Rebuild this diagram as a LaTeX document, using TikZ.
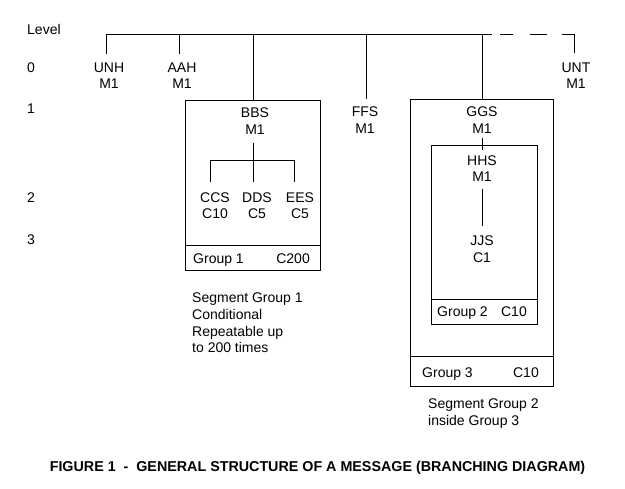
\documentclass[tikz,border=0pt]{standalone}
\usepackage{fontspec}
\setmainfont{Liberation Sans}
\begin{document}
\begin{tikzpicture}[x=1pt,y=-1pt,
  txt/.style={inner sep=0pt, align=center, font=\fontsize{14}{16.6}\selectfont},
  ltxt/.style={inner sep=0pt, align=left, font=\fontsize{14}{16.6}\selectfont},
  wire/.style={line width=0.9pt},
  grpbox/.style={draw, line width=0.9pt, inner sep=0pt}]
\useasboundingbox (0,0) rectangle (625,489);
% level column
\node[txt, anchor=base west] (lvl) at (27,35) {Level};
\node[txt, anchor=base west] (l0) at (27,73) {0};
\node[txt, anchor=base west] (l1) at (27,114) {1};
\node[txt, anchor=base west] (l2) at (27,203) {2};
\node[txt, anchor=base west] (l3) at (27,245) {3};
% level 0 segments
\node[txt] (unh) at (109,75.5) {UNH\\M1};
\node[txt] (aah) at (182,75.5) {AAH\\M1};
\node[txt] (ffs) at (365,120) {FFS\\M1};
\node[txt] (unt) at (576,75.5) {UNT\\M1};
% boxes
\node[grpbox, minimum width=135pt, minimum height=170pt] (g1box) at (252.5,185) {};
\node[grpbox, minimum width=143pt, minimum height=287pt] (g3box) at (481.5,242.5) {};
\node[grpbox, minimum width=106pt, minimum height=179pt] (g2box) at (484,234.5) {};
% texts in group 1
\node[txt] (bbs) at (255,121) {BBS\\M1};
\node[txt] (ccs) at (215,205.5) {CCS\\C10};
\node[txt] (dds) at (257,205.5) {DDS\\C5};
\node[txt] (ees) at (300,205.5) {EES\\C5};
\node[txt, anchor=base west] (g1lab) at (193,264) {Group 1};
\node[txt, anchor=base east] (g1rep) at (310,264) {C200};
% texts in group 3 / 2
\node[txt] (ggs) at (482,120) {GGS\\M1};
\node[txt] (hhs) at (482,168.5) {HHS\\M1};
\node[txt] (jjs) at (482,249) {JJS\\C1};
\node[txt, anchor=base west] (g2lab) at (437,317) {Group 2};
\node[txt, anchor=base east] (g2rep) at (527,317) {C10};
\node[txt, anchor=base west] (g3lab) at (422,378) {Group 3};
\node[txt, anchor=base east] (g3rep) at (539,378) {C10};
% notes
\node[ltxt, anchor=north west] (note1) at (192,293) {Segment Group 1\\Conditional\\Repeatable up\\to 200 times};
\node[ltxt, anchor=north west] (note2) at (428,398.5) {Segment Group 2\\inside Group 3};
% caption
\node[inner sep=0pt, anchor=base, font=\bfseries\fontsize{14.3}{17}\selectfont] (cap) at (317.5,472) {FIGURE 1\ \ -\ \ GENERAL STRUCTURE OF A MESSAGE (BRANCHING DIAGRAM)};
% dividers
\draw[wire] (g1box.west |- 0,245) -- (g1box.east |- 0,245);
\draw[wire] (g3box.west |- 0,356) -- (g3box.east |- 0,356);
\draw[wire] (g2box.west |- 0,299) -- (g2box.east |- 0,299);
% bus coordinates
\coordinate (busL) at (106,34);
\coordinate (busR) at (492,34);
\coordinate (unhT) at (106,54);
\coordinate (aahB) at (179,34);
\coordinate (aahT) at (179,54);
\coordinate (bbsB) at (253,34);
\coordinate (ffsB) at (366,34);
\coordinate (ffsT) at (366,99);
\coordinate (ggsB) at (482,34);
\coordinate (untC) at (574,34);
\coordinate (untT) at (574,53);
% connectors
\draw[wire] (unhT) -- (busL) -- (busR);
\draw[wire, dash pattern=on 0pt off 8pt on 13pt off 17pt on 17pt off 15pt on 60pt] (busR) -- (untC) -- (untT);
\draw[wire] (aahB) -- (aahT);
\draw[wire] (bbsB) -- (bbsB |- g1box.north);
\draw[wire] (ffsB) -- (ffsT);
\draw[wire] (ggsB) -- (ggsB |- g3box.north);
% inside group 1
\coordinate (bbsS) at (253,143);
\coordinate (brL) at (210,160);
\coordinate (brM) at (253,160);
\coordinate (brR) at (294,160);
\draw[wire] (bbsS) -- (brM);
\draw[wire] (brL |- 0,182) -- (brL) -- (brR) -- (brR |- 0,182);
\draw[wire] (brM) -- (brM |- 0,182);
% inside group 3 / 2
\draw[wire] (482,138) -- (482,150);
\draw[wire] (482,189) -- (482,226);
\end{tikzpicture}
\end{document}
